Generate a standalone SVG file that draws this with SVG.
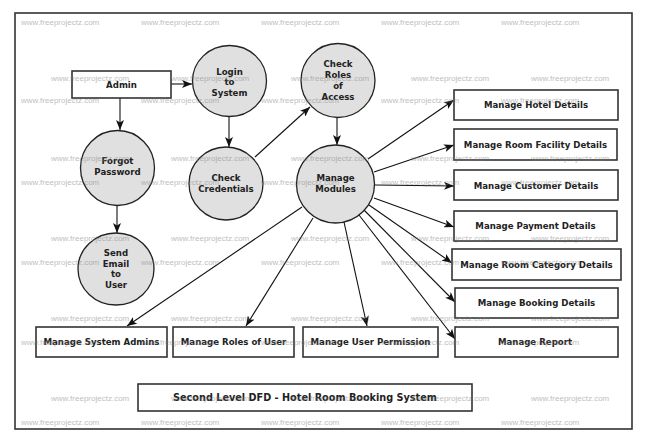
<svg xmlns="http://www.w3.org/2000/svg" width="649" height="440" viewBox="0 0 649 440">
<defs>
<style>
.bg{fill:#fff}
.frame{fill:none;stroke:#333;stroke-width:1.6}
.proc{fill:#e0e0e0;stroke:#222;stroke-width:1.3}
.box{fill:#fff;stroke:#333;stroke-width:1.6}
.lbl{font-family:"DejaVu Sans",sans-serif;font-weight:bold;font-size:8.6px;fill:#222;text-anchor:middle}
.title{font-family:"DejaVu Sans",sans-serif;font-weight:bold;font-size:9.7px;fill:#222;text-anchor:middle}
.edge{fill:none;stroke:#111;stroke-width:1.1;marker-end:url(#ah)}
.wm{font-family:"Liberation Sans",Arial,sans-serif;font-size:8px;fill:#808080;opacity:0.5}
</style>
<marker id="ah" markerWidth="10" markerHeight="8" refX="10" refY="4" orient="auto" markerUnits="userSpaceOnUse">
<path d="M0,0 L10,4 L0,8 L2.5,4 z" fill="#111"/>
</marker>
</defs>
<rect class="bg" x="0" y="0" width="649" height="440"/>
<rect class="frame" x="15" y="13" width="617" height="416"/>

<g id="connectors">
<line class="edge" x1="171" y1="84" x2="192" y2="84"/>
<line class="edge" x1="120" y1="98" x2="120" y2="130"/>
<line class="edge" x1="229" y1="116" x2="229" y2="147"/>
<line class="edge" x1="255" y1="157" x2="310" y2="107"/>
<line class="edge" x1="337" y1="117" x2="337" y2="145"/>
<line class="edge" x1="117" y1="206" x2="117" y2="233"/>
<line class="edge" x1="368" y1="159" x2="454" y2="100"/>
<line class="edge" x1="374" y1="172" x2="454" y2="145"/>
<line class="edge" x1="375" y1="185" x2="454" y2="186"/>
<line class="edge" x1="374" y1="198" x2="454" y2="227"/>
<line class="edge" x1="369" y1="205" x2="452" y2="263"/>
<line class="edge" x1="364" y1="210" x2="455" y2="302"/>
<line class="edge" x1="359" y1="215" x2="455" y2="339"/>
<line class="edge" x1="344" y1="222" x2="367" y2="326"/>
<line class="edge" x1="313" y1="218" x2="246" y2="326"/>
<line class="edge" x1="302" y1="207" x2="127" y2="326"/>
</g>

<g id="admin"><rect class="box" x="72" y="71" width="99" height="27"/><text class="lbl" x="121.5" y="87.5">Admin</text></g>
<g id="login"><ellipse class="proc" cx="229.5" cy="81" rx="37" ry="35.5"/><text class="lbl" x="229.5" y="74.5">Login</text><text class="lbl" x="229.5" y="85">to</text><text class="lbl" x="229.5" y="96">System</text></g>
<g id="check-roles"><ellipse class="proc" cx="338" cy="80.5" rx="37" ry="37"/><text class="lbl" x="338" y="67">Check</text><text class="lbl" x="338" y="78">Roles</text><text class="lbl" x="338" y="89">of</text><text class="lbl" x="338" y="100">Access</text></g>
<g id="forgot-password"><ellipse class="proc" cx="117.5" cy="168" rx="37" ry="37.5"/><text class="lbl" x="117.5" y="164">Forgot</text><text class="lbl" x="117.5" y="175">Password</text></g>
<g id="check-credentials"><ellipse class="proc" cx="226" cy="183.5" rx="37" ry="36.5"/><text class="lbl" x="226" y="181">Check</text><text class="lbl" x="226" y="192">Credentials</text></g>
<g id="manage-modules"><ellipse class="proc" cx="335.5" cy="184" rx="39" ry="39"/><text class="lbl" x="335.5" y="181">Manage</text><text class="lbl" x="335.5" y="192">Modules</text></g>
<g id="send-email"><ellipse class="proc" cx="116" cy="269" rx="38" ry="36"/><text class="lbl" x="116" y="256">Send</text><text class="lbl" x="116" y="266.5">Email</text><text class="lbl" x="116" y="277">to</text><text class="lbl" x="116" y="288">User</text></g>

<g id="manage-hotel-details"><rect class="box" x="454" y="90" width="164" height="30"/><text class="lbl" x="536" y="108">Manage Hotel Details</text></g>
<g id="manage-room-facility-details"><rect class="box" x="454" y="129" width="163" height="31"/><text class="lbl" x="535.5" y="148">Manage Room Facility Details</text></g>
<g id="manage-customer-details"><rect class="box" x="454" y="170" width="164" height="30"/><text class="lbl" x="536" y="189">Manage Customer Details</text></g>
<g id="manage-payment-details"><rect class="box" x="454" y="211" width="163" height="30"/><text class="lbl" x="535.5" y="229">Manage Payment Details</text></g>
<g id="manage-room-category-details"><rect class="box" x="452" y="249" width="169" height="31"/><text class="lbl" x="536.5" y="267.5">Manage Room Category Details</text></g>
<g id="manage-booking-details"><rect class="box" x="455" y="288" width="163" height="30"/><text class="lbl" x="536.5" y="306">Manage Booking Details</text></g>
<g id="manage-report"><rect class="box" x="455" y="327" width="163" height="30"/><text class="lbl" x="535" y="345">Manage Report</text></g>
<g id="manage-system-admins"><rect class="box" x="36" y="327" width="131" height="30"/><text class="lbl" x="101.5" y="345">Manage System Admins</text></g>
<g id="manage-roles-of-user"><rect class="box" x="173" y="327" width="121" height="30"/><text class="lbl" x="233.5" y="345">Manage Roles of User</text></g>
<g id="manage-user-permission"><rect class="box" x="303" y="327" width="135" height="30"/><text class="lbl" x="370.5" y="345">Manage User Permission</text></g>
<g id="title"><rect class="box" x="138" y="384" width="334" height="27"/><text class="title" x="305" y="400.5">Second Level DFD - Hotel Room Booking System</text></g>

<g id="watermarks" class="wm">
<text x="21" y="25">www.freeprojectz.com</text><text x="141" y="25">www.freeprojectz.com</text><text x="261" y="25">www.freeprojectz.com</text><text x="381" y="25">www.freeprojectz.com</text><text x="501" y="25">www.freeprojectz.com</text>
<text x="51" y="81">www.freeprojectz.com</text><text x="171" y="81">www.freeprojectz.com</text><text x="291" y="81">www.freeprojectz.com</text><text x="411" y="81">www.freeprojectz.com</text><text x="531" y="81">www.freeprojectz.com</text>
<text x="21" y="103">www.freeprojectz.com</text><text x="141" y="103">www.freeprojectz.com</text><text x="261" y="103">www.freeprojectz.com</text><text x="381" y="103">www.freeprojectz.com</text><text x="501" y="103">www.freeprojectz.com</text>
<text x="51" y="161">www.freeprojectz.com</text><text x="171" y="161">www.freeprojectz.com</text><text x="291" y="161">www.freeprojectz.com</text><text x="411" y="161">www.freeprojectz.com</text><text x="531" y="161">www.freeprojectz.com</text>
<text x="21" y="185">www.freeprojectz.com</text><text x="141" y="185">www.freeprojectz.com</text><text x="261" y="185">www.freeprojectz.com</text><text x="381" y="185">www.freeprojectz.com</text><text x="501" y="185">www.freeprojectz.com</text>
<text x="51" y="241">www.freeprojectz.com</text><text x="171" y="241">www.freeprojectz.com</text><text x="291" y="241">www.freeprojectz.com</text><text x="411" y="241">www.freeprojectz.com</text><text x="531" y="241">www.freeprojectz.com</text>
<text x="21" y="265">www.freeprojectz.com</text><text x="141" y="265">www.freeprojectz.com</text><text x="261" y="265">www.freeprojectz.com</text><text x="381" y="265">www.freeprojectz.com</text><text x="501" y="265">www.freeprojectz.com</text>
<text x="51" y="321">www.freeprojectz.com</text><text x="171" y="321">www.freeprojectz.com</text><text x="291" y="321">www.freeprojectz.com</text><text x="411" y="321">www.freeprojectz.com</text><text x="531" y="321">www.freeprojectz.com</text>
<text x="21" y="345">www.freeprojectz.com</text><text x="141" y="345">www.freeprojectz.com</text><text x="261" y="345">www.freeprojectz.com</text><text x="381" y="345">www.freeprojectz.com</text><text x="501" y="345">www.freeprojectz.com</text>
<text x="51" y="401">www.freeprojectz.com</text><text x="171" y="401">www.freeprojectz.com</text><text x="291" y="401">www.freeprojectz.com</text><text x="411" y="401">www.freeprojectz.com</text><text x="531" y="401">www.freeprojectz.com</text>
<text x="21" y="425">www.freeprojectz.com</text><text x="141" y="425">www.freeprojectz.com</text><text x="261" y="425">www.freeprojectz.com</text><text x="381" y="425">www.freeprojectz.com</text><text x="501" y="425">www.freeprojectz.com</text>
</g>
</svg>
